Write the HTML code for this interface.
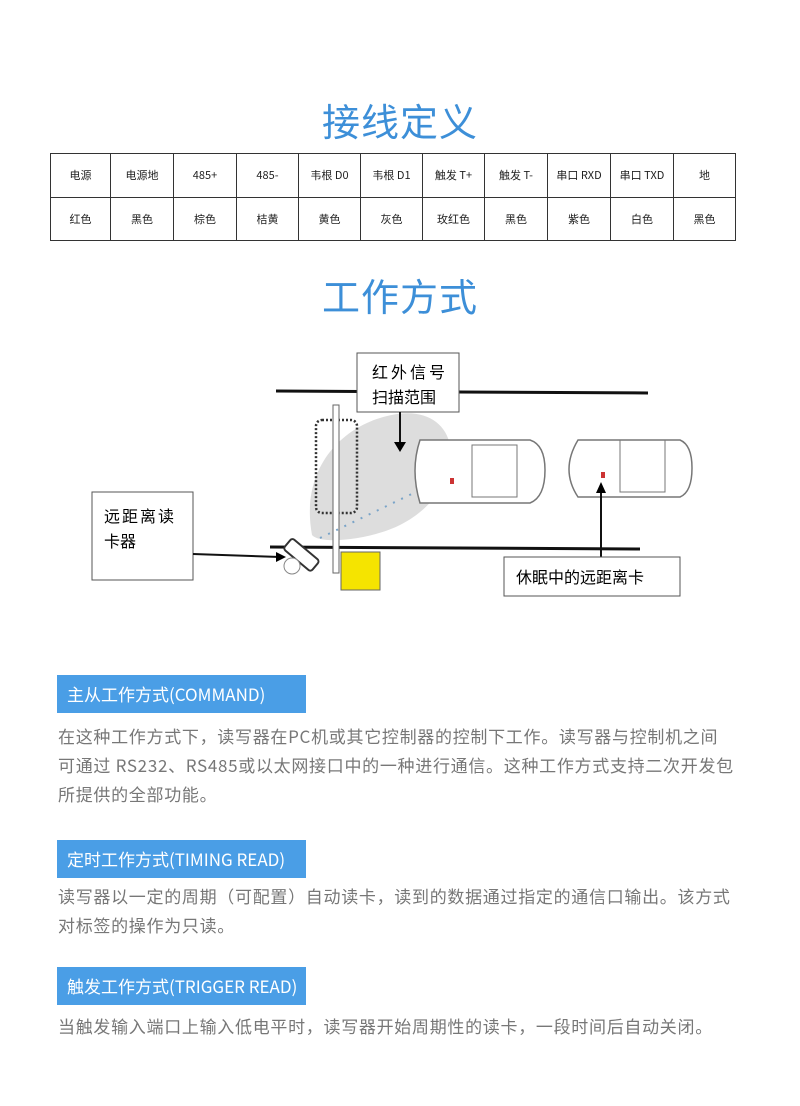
<!DOCTYPE html>
<html><head><meta charset="utf-8"><style>
body{margin:0;width:800px;height:1106px;background:#fff;position:relative;overflow:hidden;font-family:"Liberation Sans","Noto Sans CJK SC",sans-serif}
.t{position:absolute;left:0;width:800px;text-align:center;color:#3d8fd8;font-size:38px;font-family:"Noto Sans CJK SC",sans-serif;letter-spacing:1px}
table{position:absolute;left:50px;top:153px;border-collapse:collapse;table-layout:fixed;width:685px;height:88px;font-family:"Noto Sans CJK SC",sans-serif;font-size:11px;color:#222}
td{border:1.5px solid #333;text-align:center;padding:0;white-space:nowrap}
.bx{position:absolute;left:57px;width:249px;height:38px;background:#4a9ee6;color:#fff;font-size:17px;line-height:38px;padding-left:10px;box-sizing:border-box;font-family:"Noto Sans CJK SC",sans-serif}
.p{position:absolute;left:58px;width:730px;color:#777;font-size:17px;letter-spacing:0.7px;line-height:29px;font-family:"Noto Sans CJK SC",sans-serif}
</style></head><body>
<div class="t" style="top:92px">接线定义</div>
<table><colgroup><col style="width:60px"><col style="width:63px"><col style="width:63px"><col style="width:62px"><col style="width:62px"><col style="width:62px"><col style="width:62px"><col style="width:63px"><col style="width:63px"><col style="width:63px"><col style="width:62px"></colgroup>
<tr><td>电源</td><td>电源地</td><td>485+</td><td>485-</td><td>韦根 D0</td><td>韦根 D1</td><td>触发 T+</td><td>触发 T-</td><td>串口 RXD</td><td>串口 TXD</td><td>地</td></tr>
<tr><td>红色</td><td>黑色</td><td>棕色</td><td>桔黄</td><td>黄色</td><td>灰色</td><td>玫红色</td><td>黑色</td><td>紫色</td><td>白色</td><td>黑色</td></tr></table>
<div class="t" style="top:267px">工作方式</div>
<svg style="position:absolute;left:0;top:0" width="800" height="640" font-family="Noto Sans CJK SC,sans-serif">
<path d="M312,535 C300,470 340,430 380,418 C420,405 445,420 450,445 C455,480 430,510 400,525 C370,540 320,545 312,535 Z" fill="#ddd"/>
<line x1="276" y1="391" x2="648" y2="393" stroke="#111" stroke-width="3"/>
<line x1="270" y1="547" x2="640" y2="549" stroke="#111" stroke-width="3"/>
<rect x="316" y="420" width="41" height="93" rx="6" fill="none" stroke="#333" stroke-width="2.5" stroke-dasharray="2,2"/>
<rect x="333" y="405" width="6" height="168" fill="#fff" stroke="#666"/>
<rect x="341" y="552" width="39" height="38" fill="#f5e400" stroke="#666"/>
<path d="M320,538 L420,490 L440,480" stroke="#7aa4c8" stroke-width="2" stroke-dasharray="2,7" fill="none"/>
<g transform="rotate(40 300 555)"><rect x="283" y="547" width="36" height="14" rx="3" fill="#fff" stroke="#333" stroke-width="2"/></g>
<circle cx="292" cy="566" r="8" fill="#fff" stroke="#888"/>
<g fill="#fff" stroke="#777" stroke-width="1.5">
<path d="M420,440 L530,440 Q545,445 545,470 Q545,497 530,503 L420,503 Q410,470 420,440 Z"/>
<path d="M578,440 L680,440 Q692,445 692,468 Q692,492 680,497 L578,497 Q560,470 578,440 Z"/>
</g>
<g fill="none" stroke="#777"><rect x="472" y="445" width="45" height="52"/><rect x="620" y="440" width="45" height="52"/></g>
<rect x="450" y="478" width="4" height="6" fill="#c33"/><rect x="601" y="472" width="4" height="6" fill="#c33"/>
<rect x="357" y="353" width="102" height="59" fill="#fff" stroke="#555"/>
<text x="372" y="378" font-size="16" letter-spacing="3">红外信号</text>
<text x="372" y="403" font-size="16">扫描范围</text>
<line x1="400" y1="412" x2="400" y2="445" stroke="#111" stroke-width="2"/><path d="M394,442 L406,442 L400,452Z"/>
<rect x="92" y="492" width="101" height="88" fill="#fff" stroke="#555"/>
<text x="104" y="522" font-size="16" letter-spacing="2">远距离读</text>
<text x="104" y="547" font-size="16">卡器</text>
<line x1="193" y1="554" x2="280" y2="557" stroke="#111" stroke-width="2"/><path d="M276,552 L286,557 L276,562Z"/>
<line x1="601" y1="490" x2="601" y2="558" stroke="#111" stroke-width="2"/><path d="M596,493 L606,493 L601,482Z"/>
<rect x="504" y="557" width="176" height="39" fill="#fff" stroke="#555"/>
<text x="516" y="583" font-size="16">休眠中的远距离卡</text>
</svg>
<div class="bx" style="top:675px">主从工作方式(COMMAND)</div>
<div class="p" style="top:721px">在这种工作方式下，读写器在PC机或其它控制器的控制下工作。读写器与控制机之间<br>可通过 RS232、RS485或以太网接口中的一种进行通信。这种工作方式支持二次开发包<br>所提供的全部功能。</div>
<div class="bx" style="top:840px">定时工作方式(TIMING READ)</div>
<div class="p" style="top:881px">读写器以一定的周期（可配置）自动读卡，读到的数据通过指定的通信口输出。该方式<br>对标签的操作为只读。</div>
<div class="bx" style="top:967px">触发工作方式(TRIGGER READ)</div>
<div class="p" style="top:1011px">当触发输入端口上输入低电平时，读写器开始周期性的读卡，一段时间后自动关闭。</div>
</body></html>
